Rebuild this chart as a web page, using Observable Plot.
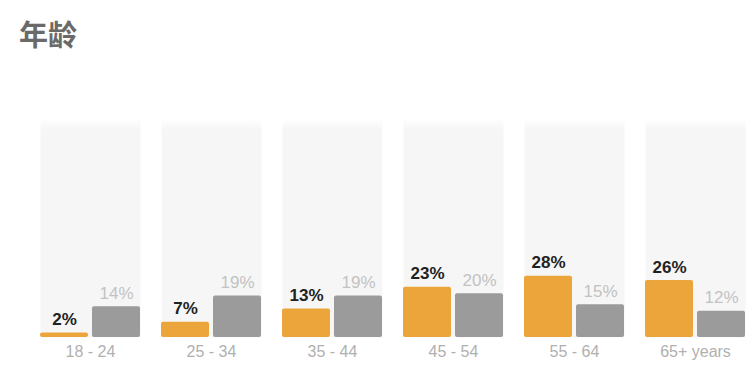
<!DOCTYPE html>
<html>
<head>
<meta charset="utf-8">
<script src="https://cdn.jsdelivr.net/npm/d3@7"></script>
<script src="https://cdn.jsdelivr.net/npm/@observablehq/plot@0.6"></script>
<style>
  html, body { margin: 0; padding: 0; background: #fff; }
  #title { height: 60px; box-sizing: border-box; padding: 16px 0 0 19px; font-family: "Noto Sans CJK SC", sans-serif; font-size: 29px; line-height: 34px; font-weight: bold; color: #6a6a6a; }
  #chart svg { display: block; }
</style>
</head>
<body>
<div id="title">年龄</div>
<div id="chart"></div>
<script>
const groups = ["18 - 24", "25 - 34", "35 - 44", "45 - 54", "55 - 64", "65+ years"];
const seriesNames = ["A", "B"];
const seriesA = [2, 7, 13, 23, 28, 26];
const seriesB = [14, 19, 19, 20, 15, 12];
const colors = ["#eba53a", "#9b9b9b"];

const rows = [];
groups.forEach((g, i) => {
  rows.push({group: g, series: "A", value: seriesA[i]});
  rows.push({group: g, series: "B", value: seriesB[i]});
});
const rowsA = rows.filter(d => d.series === "A");
const rowsB = rows.filter(d => d.series === "B");

const chart = Plot.plot({
  width: 752,
  height: 312,
  marginLeft: 40,
  marginRight: 7,
  marginTop: 58,
  marginBottom: 35,
  style: {fontFamily: "'Liberation Sans', Arial, sans-serif", background: "transparent"},
  fx: {domain: groups, paddingInner: 0.174, paddingOuter: 0, label: null},
  x: {domain: seriesNames, paddingInner: 0.077, paddingOuter: 0, axis: null},
  y: {domain: [0, 100], axis: null},
  color: {domain: seriesNames, range: colors},
  marks: [
    Plot.frame({fill: "url(#panelFade)", stroke: "none"}),
    Plot.barY(rows, {fx: "group", x: "series", y: "value", fill: "series", rx: 2}),
    Plot.text(rowsA, {fx: "group", x: "series", y: "value", text: d => d.value + "%", dy: -8, lineAnchor: "bottom", fontSize: 17, fontWeight: "bold", fill: "#222"}),
    Plot.text(rowsB, {fx: "group", x: "series", y: "value", text: d => d.value + "%", dy: -8, lineAnchor: "bottom", fontSize: 17, fill: "#c2c2c2"}),
    Plot.axisFx({anchor: "bottom", tickSize: 0, tickPadding: 8, fontSize: 16, color: "#b0b0b0", label: null})
  ]
});

const defs = d3.select(chart).insert("defs", ":first-child");
const grad = defs.append("linearGradient").attr("id", "panelFade").attr("x1", 0).attr("y1", 0).attr("x2", 0).attr("y2", 1);
grad.append("stop").attr("offset", "0%").attr("stop-color", "#ffffff");
grad.append("stop").attr("offset", "5%").attr("stop-color", "#f6f6f6");
grad.append("stop").attr("offset", "100%").attr("stop-color", "#f6f6f6");

document.getElementById("chart").appendChild(chart);
</script>
</body>
</html>
